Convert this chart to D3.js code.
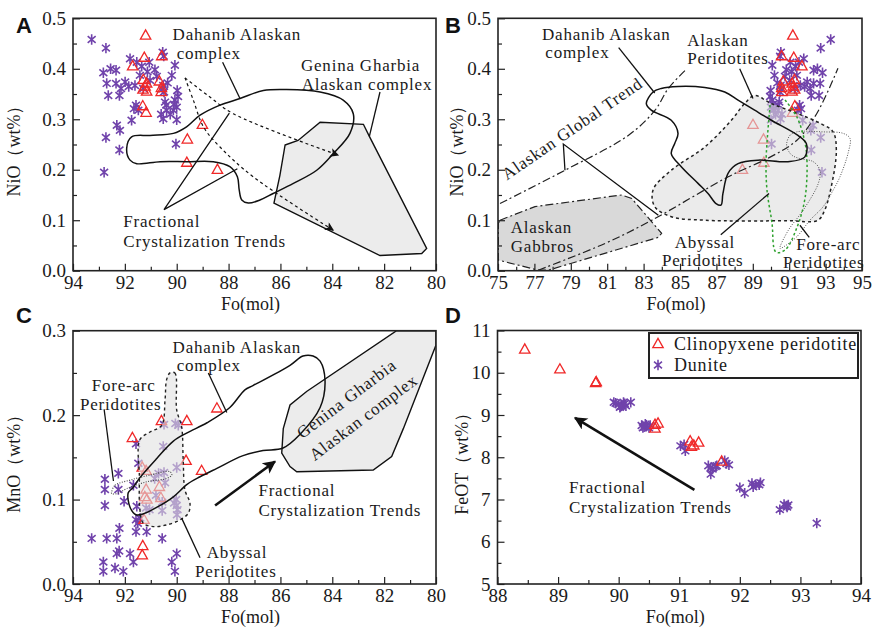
<!DOCTYPE html>
<html lang="en">
<head>
<meta charset="UTF-8">
<title>Olivine Fo vs NiO, MnO and FeOT</title>
<script src="https://d3js.org/d3.v7.min.js"></script>
<style>
  body { margin: 0; background: #fff; }
  svg { display: block; }
  text { font-family: "Liberation Serif", "Times New Roman", serif; fill: #1a1a1a; }
  .lbl { font-size: 17px; letter-spacing: 0.8px; }
  .tick text { font-size: 19px; }
  .title { font-size: 18px; }
  .letter { font-family: "Liberation Sans", Arial, sans-serif; font-weight: bold; font-size: 22px; fill: #111; }
</style>
</head>
<body>
<script>
// ---- sample data (Fo mol%, oxide wt%) ----
const triNiO = [[91.2,0.466],[91.25,0.422],[90.58,0.425],[91.70,0.405],[91.29,0.378],[91.16,0.371],
  [91.22,0.365],[91.30,0.359],[91.16,0.355],[90.67,0.375],[90.59,0.362],[90.60,0.354],[91.31,0.326],
  [91.18,0.313],[89.01,0.289],[89.59,0.260],[89.61,0.214],[88.43,0.200]];
const starNiO = [[93.28,0.458],[92.73,0.441],[92.83,0.392],[92.34,0.397],[92.70,0.371],[92.34,0.371],
  [92.15,0.361],[91.99,0.374],[92.64,0.347],[92.21,0.347],[91.80,0.420],[91.54,0.413],[91.42,0.387],
  [91.61,0.367],[91.13,0.394],[91.03,0.377],[91.06,0.413],[91.57,0.328],[91.48,0.318],[91.74,0.298],
  [92.31,0.288],[92.19,0.278],[92.73,0.264],[92.21,0.239],[92.80,0.195],[90.54,0.433],[90.50,0.425],
  [90.07,0.407],[90.19,0.387],[90.52,0.367],[90.49,0.354],[89.98,0.357],[90.45,0.334],[90.07,0.338],
  [90.00,0.324],[90.39,0.318],[90.52,0.301],[90.00,0.299],[90.13,0.318],[90.03,0.251],[90.84,0.398],
  [90.77,0.385],[91.29,0.361],[91.65,0.321],[90.40,0.328],[90.60,0.310],[90.10,0.330],[89.95,0.345],
  [90.35,0.372],[91.35,0.405],[91.85,0.365],[92.55,0.400],[90.55,0.360],[90.25,0.310]];
const triMnO = [[91.71,0.173],[90.59,0.193],[89.61,0.193],[88.45,0.208],[89.64,0.146],[89.04,0.134],
  [91.33,0.138],[91.18,0.134],[91.18,0.112],[91.23,0.103],[91.15,0.100],[90.67,0.115],[90.61,0.102],
  [91.26,0.076],[91.31,0.045],[91.33,0.034]];
const starMnO = [[92.77,0.124],[92.77,0.112],[92.25,0.131],[92.25,0.112],[92.77,0.093],[92.03,0.098],
  [91.57,0.166],[91.48,0.143],[91.67,0.117],[91.54,0.092],[91.57,0.076],[91.50,0.072],[91.57,0.062],
  [91.16,0.062],[92.21,0.066],[93.28,0.054],[92.70,0.054],[92.31,0.054],[92.31,0.036],[92.22,0.039],
  [91.80,0.036],[91.67,0.026],[92.83,0.026],[92.83,0.015],[92.38,0.019],[92.06,0.015],[90.56,0.054],
  [90.00,0.036],[90.19,0.026],[90.07,0.015],[90.52,0.163],[89.94,0.188],[90.05,0.190],[90.49,0.189],
  [90.00,0.138],[90.49,0.132],[90.45,0.120],[90.56,0.097],[90.56,0.087],[90.02,0.100],[90.00,0.093],
  [89.97,0.088],[89.99,0.082],[90.10,0.096],[91.18,0.090],[91.05,0.088],[91.41,0.078],[90.70,0.131],
  [90.85,0.125],[90.80,0.105]];
const triFeO = [[88.45,10.55],[89.03,10.08],[89.63,9.78],[89.62,9.76],[90.60,8.77],[90.65,8.80],
  [90.60,8.68],[91.18,8.38],[91.32,8.35],[91.20,8.25],[91.24,8.28],[91.70,7.90]];
const starFeO = [[89.95,9.28],[90.00,9.25],[90.05,9.22],[90.10,9.27],[90.02,9.18],[89.92,9.30],
  [90.08,9.30],[90.03,9.20],[90.12,9.22],[90.20,9.30],[90.38,8.75],[90.42,8.72],[90.46,8.76],
  [90.50,8.70],[90.44,8.78],[90.40,8.70],[90.52,8.75],[91.02,8.27],[91.10,8.15],[91.08,8.30],
  [91.48,7.80],[91.52,7.75],[91.55,7.72],[91.52,7.60],[91.60,7.78],[91.62,7.80],[91.75,7.92],
  [91.78,7.85],[91.82,7.82],[92.00,7.28],[92.08,7.15],[92.20,7.38],[92.22,7.30],[92.26,7.35],
  [92.32,7.35],[92.34,7.40],[92.66,6.76],[92.73,6.88],[92.77,6.85],[92.80,6.87],[92.78,6.82],
  [93.27,6.44]];

// ---- reference fields (Fo, oxide) ----
const dahanibNiO = [[91.93,0.242],[91.74,0.265],[91.03,0.268],[90.13,0.272],[89.62,0.285],[89.10,0.308],
  [88.33,0.328],[87.56,0.341],[86.66,0.357],[85.76,0.359],[84.47,0.354],[83.58,0.338],[83.19,0.311],
  [83.32,0.272],[83.96,0.232],[84.60,0.199],[85.50,0.173],[86.28,0.153],[86.79,0.140],[87.24,0.134],
  [87.49,0.140],[87.59,0.160],[87.66,0.186],[87.95,0.206],[88.59,0.216],[89.62,0.216],[90.64,0.216],
  [91.54,0.212],[91.80,0.219]];
const geninaNiO = [[85.82,0.249],[85.32,0.258],[84.47,0.294],[82.80,0.290],[82.57,0.266],[80.36,0.044],
  [80.55,0.034],[82.16,0.030],[86.25,0.134],[86.02,0.189]];
const trendUpper = [[89.68,0.382],[88.72,0.344],[87.82,0.311],[83.77,0.229]];
const trendLower = [[89.68,0.382],[89.36,0.338],[88.97,0.285],[88.33,0.245],[87.05,0.186],[83.96,0.080]];
const gabbros = [[75.11,0.100],[77.03,0.127],[81.80,0.150],[82.35,0.143],[83.99,0.074],[83.81,0.066],
  [77.76,0.001],[77.21,0.001],[75.02,0.021],[75.02,0.094]];
const globalUpper = [[75.11,0.133],[78.68,0.199],[82.16,0.268],[83.63,0.318],[84.36,0.361],[85.37,0.400]];
const globalLower = [[77.21,0.001],[80.88,0.054],[83.45,0.100],[87.65,0.186],[89.95,0.225],[91.41,0.258],
  [92.51,0.311],[93.68,0.401]];
const dahanibB = [[83.52,0.354],[83.15,0.331],[83.42,0.318],[84.52,0.298],[84.89,0.272],[84.71,0.252],
  [84.52,0.232],[85.07,0.206],[85.99,0.173],[86.54,0.153],[86.98,0.133],[87.25,0.130],[87.36,0.153],
  [87.64,0.193],[88.19,0.212],[89.29,0.219],[90.93,0.216],[91.85,0.225],[91.94,0.252],[91.48,0.268],
  [90.02,0.298],[89.10,0.318],[88.19,0.338],[87.46,0.354],[86.36,0.363],[84.89,0.365],[83.97,0.361]];
const alaskanPerid = [[89.10,0.347],[90.02,0.331],[91.48,0.311],[92.76,0.291],[93.41,0.275],[93.59,0.239],
  [93.31,0.166],[92.95,0.120],[92.58,0.100],[90.93,0.099],[86.36,0.100],[84.52,0.107],[83.61,0.127],
  [83.52,0.160],[84.52,0.199],[86.36,0.245],[87.82,0.298],[88.55,0.331]];
const foreArcB = [[90.86,0.252],[91.04,0.268],[91.41,0.275],[92.87,0.275],[93.97,0.272],[94.34,0.262],
  [94.25,0.235],[93.79,0.186],[93.42,0.160],[92.87,0.127],[92.14,0.100],[91.41,0.067],[90.68,0.047],
  [90.49,0.044],[90.95,0.080],[91.77,0.120],[92.60,0.173],[92.69,0.199],[92.32,0.216],[91.59,0.222],
  [91.14,0.229],[90.90,0.242]];
const abyssalB = [[89.95,0.328],[89.73,0.219],[89.78,0.160],[90.05,0.096],[90.27,0.037],[90.77,0.041],
  [91.43,0.086],[91.87,0.144],[91.98,0.213],[91.87,0.253],[91.43,0.304],[90.77,0.338]];
const dahanibMnO = [[91.87,0.108],[91.80,0.091],[91.57,0.082],[91.30,0.083],[90.76,0.091],[90.14,0.103],
  [89.60,0.118],[89.10,0.127],[88.45,0.137],[87.44,0.152],[86.67,0.158],[85.90,0.161],[85.25,0.177],
  [84.47,0.209],[84.28,0.241],[84.47,0.264],[84.74,0.270],[85.13,0.270],[85.63,0.259],[87.06,0.235],
  [87.37,0.230],[87.95,0.209],[88.83,0.191],[89.60,0.179],[90.14,0.169],[90.76,0.149],[91.42,0.126],
  [91.69,0.114]];
const geninaMnO = [[81.52,0.300],[80.0,0.300],[80.0,0.283],[81.26,0.184],[81.71,0.151],[82.42,0.135],
  [85.37,0.133],[85.63,0.139],[85.95,0.155],[85.89,0.184],[85.63,0.212],[84.99,0.228]];
const abyssalMnO = [[90.26,0.250],[90.07,0.250],[90.00,0.206],[89.81,0.186],[89.75,0.147],[89.68,0.111],
  [89.49,0.096],[89.55,0.084],[89.87,0.076],[90.39,0.070],[90.90,0.068],[91.29,0.072],[91.42,0.088],
  [91.44,0.127],[91.42,0.171],[91.03,0.180],[90.58,0.188],[90.45,0.218],[90.39,0.242]];
const foreArcMnO = [[92.51,0.109],[92.38,0.117],[91.80,0.123],[91.03,0.129],[90.26,0.133],[90.19,0.129],
  [90.39,0.125],[91.16,0.121],[91.93,0.113],[92.31,0.107],[92.51,0.107]];

const svg = d3.select("body").append("svg").attr("width", 877).attr("height", 633);
const defs = svg.append("defs");

function arrowMarker(id, w, h) {
  defs.append("marker").attr("id", id).attr("viewBox", "0 0 10 10")
    .attr("refX", 9).attr("refY", 5).attr("markerUnits", "userSpaceOnUse")
    .attr("markerWidth", w).attr("markerHeight", h).attr("orient", "auto")
    .append("path").attr("d", "M0,0L10,5L0,10L2.5,5Z").attr("fill", "#111");
}
arrowMarker("arrowSmall", 12, 9);
arrowMarker("arrowBig", 17, 13);

let clipN = 0;
function panel(xDom, xRange, yDom, yRange) {
  const x = d3.scaleLinear().domain(xDom).range(xRange);
  const y = d3.scaleLinear().domain(yDom).range(yRange);
  const id = "clip" + (++clipN);
  defs.append("clipPath").attr("id", id).append("rect")
    .attr("x", xRange[0]).attr("y", yRange[1])
    .attr("width", xRange[1] - xRange[0]).attr("height", yRange[0] - yRange[1]);
  return { x, y, g: svg.append("g"), clip: `url(#${id})` };
}

function axes(p, xMajor, xMinor, yMajor, yMinor, xFmt, yFmt) {
  const [x0, x1] = p.x.range(), [y0, y1] = p.y.range();
  const a = p.g.append("g");
  const tidy = s => { s.select(".domain").remove(); s.selectAll(".tick line").attr("stroke", "#222").attr("stroke-width", 1.2); };
  a.append("g").attr("transform", `translate(0,${y0})`)
    .call(d3.axisBottom(p.x).tickValues(xMinor).tickSize(-4).tickFormat("")).call(tidy);
  a.append("g").attr("transform", `translate(0,${y0})`)
    .call(d3.axisBottom(p.x).tickValues(xMajor).tickSize(-7).tickPadding(5).tickFormat(xFmt)).call(tidy);
  a.append("g").attr("transform", `translate(${x0},0)`)
    .call(d3.axisLeft(p.y).tickValues(yMinor).tickSize(-4).tickFormat("")).call(tidy);
  a.append("g").attr("transform", `translate(${x0},0)`)
    .call(d3.axisLeft(p.y).tickValues(yMajor).tickSize(-7).tickPadding(7).tickFormat(yFmt)).call(tidy);
  p.g.append("rect").attr("x", x0).attr("y", y1).attr("width", x1 - x0).attr("height", y0 - y1)
    .attr("fill", "none").attr("stroke", "#222").attr("stroke-width", 1.6);
}

function titles(p, xt, yt, ytX, letter, lx, ly) {
  const [x0, x1] = p.x.range(), [y0, y1] = p.y.range();
  p.g.append("text").attr("class", "title").attr("x", (x0 + x1) / 2 - 4).attr("y", y0 + 39)
    .attr("text-anchor", "middle").text(xt);
  p.g.append("text").attr("class", "title").attr("text-anchor", "middle")
    .attr("transform", `translate(${ytX},${(y0 + y1) / 2 + 2}) rotate(-90)`).text(yt);
  svg.append("text").attr("class", "letter").attr("x", lx).attr("y", ly).text(letter);
}

const starArms = [90, 40, 140].map(a => {
  const r = 5.2, c = r * Math.cos(a * Math.PI / 180), s = r * Math.sin(a * Math.PI / 180);
  return `M${-c},${s}L${c},${-s}`;
}).join("");
const triPath = "M0,-5.6L5.2,3.6L-5.2,3.6Z";

function stars(p, data) {
  p.g.append("g").selectAll("path").data(data).join("path")
    .attr("d", starArms).attr("transform", d => `translate(${p.x(d[0])},${p.y(d[1])})`)
    .attr("fill", "none").attr("stroke", "#7043ab").attr("stroke-width", 1.6);
}
function tris(p, data) {
  p.g.append("g").selectAll("path").data(data).join("path")
    .attr("d", triPath).attr("transform", d => `translate(${p.x(d[0])},${p.y(d[1])})`)
    .attr("fill", "none").attr("stroke", "#f02828").attr("stroke-width", 1.3);
}

function shape(p, pts, curve, st) {
  const line = d3.line().x(d => p.x(d[0])).y(d => p.y(d[1])).curve(curve);
  return p.g.append("path").attr("d", line(pts)).attr("clip-path", p.clip)
    .attr("fill", st.fill || "none").attr("stroke", st.stroke || "#111")
    .attr("stroke-width", st.width || 1.5).attr("stroke-dasharray", st.dash || null)
    .attr("marker-end", st.marker ? `url(#${st.marker})` : null);
}
function label(p, txt, fo, v, rot) {
  const t = p.g.append("text").attr("class", "lbl").text(txt);
  if (rot) t.attr("transform", `translate(${p.x(fo)},${p.y(v)}) rotate(${rot})`).attr("text-anchor", "middle");
  else t.attr("x", p.x(fo)).attr("y", p.y(v));
  return t;
}

const fmt1 = d3.format(".1f");
const fmt0 = d3.format("d");

// ---------- A: NiO vs Fo ----------
const A = panel([94, 80], [73, 436], [0, 0.5], [270.7, 18.3]);
shape(A, geninaNiO, d3.curveLinearClosed, { fill: "#ececec", width: 1.4 });
stars(A, starNiO);
tris(A, triNiO);
shape(A, dahanibNiO, d3.curveCatmullRomClosed, { width: 1.5 });
shape(A, trendUpper, d3.curveCatmullRom, { width: 1.2, dash: "3,3", marker: "arrowSmall" });
shape(A, trendLower, d3.curveCatmullRom, { width: 1.2, dash: "3,3", marker: "arrowSmall" });
shape(A, [[88.23, 0.413], [87.56, 0.341]], d3.curveLinear, { width: 1.3 });
shape(A, [[82.16, 0.354], [82.57, 0.266]], d3.curveLinear, { width: 1.3 });
shape(A, [[87.97, 0.312], [90.49, 0.121], [87.66, 0.202]], d3.curveLinear, { width: 1.3 });
label(A, "Dahanib Alaskan", 90.16, 0.458);
label(A, "complex", 90.0, 0.420);
label(A, "Genina  Gharbia", 85.21, 0.395);
label(A, "Alaskan complex", 85.18, 0.357);
label(A, "Fractional", 92.06, 0.086);
label(A, "Crystalization Trends", 92.06, 0.047);
axes(A, d3.range(80, 95, 2), d3.range(81, 94, 2), d3.range(0, 0.51, 0.1), d3.range(0.05, 0.5, 0.1), fmt0, fmt1);
titles(A, "Fo(mol)", "NiO（wt%）", 20, "A", 16, 33);

// ---------- B: NiO vs Fo (wide range) ----------
const B = panel([75, 95], [498, 862], [0, 0.5], [270.7, 18.3]);
shape(B, gabbros, d3.curveLinearClosed, { fill: "#d9d9d9", width: 1.2, stroke: "#222", dash: "8,3,2,3" });
stars(B, starNiO);
tris(B, triNiO);
shape(B, alaskanPerid, d3.curveCatmullRomClosed, { fill: "rgba(222,222,222,0.6)", width: 1.5, stroke: "#222", dash: "3,3" });
shape(B, globalUpper, d3.curveCatmullRom, { width: 1.2, stroke: "#222", dash: "8,3,2,3" });
shape(B, globalLower, d3.curveCatmullRom, { width: 1.2, stroke: "#222", dash: "8,3,2,3" });
shape(B, foreArcB, d3.curveCatmullRomClosed, { width: 1, stroke: "#555", dash: "1,1.5" });
shape(B, abyssalB, d3.curveCatmullRom, { width: 1.5, stroke: "#2ea12e", dash: "2.5,2.5" });
shape(B, dahanibB, d3.curveCatmullRomClosed, { width: 1.5 });
shape(B, [[81.63, 0.442], [83.61, 0.352]], d3.curveLinear, { width: 1.3 });
shape(B, [[88.28, 0.400], [89.01, 0.341]], d3.curveLinear, { width: 1.3 });
shape(B, [[87.24, 0.071], [89.89, 0.153]], d3.curveLinear, { width: 1.3 });
shape(B, [[91.59, 0.090], [92.10, 0.066]], d3.curveLinear, { width: 1.3 });
shape(B, [[78.68, 0.199], [78.59, 0.251], [83.81, 0.110]], d3.curveLinear, { width: 1.3 });
label(B, "Dahanib Alaskan", 77.42, 0.458);
label(B, "complex", 77.60, 0.421);
label(B, "Alaskan", 85.40, 0.446);
label(B, "Peridotites", 85.40, 0.409);
label(B, "Alaskan", 75.70, 0.075);
label(B, "Gabbros", 75.70, 0.038);
label(B, "Abyssal", 84.71, 0.045);
label(B, "Peridotites", 84.01, 0.009);
label(B, "Fore-arc", 91.39, 0.041);
label(B, "Peridotites", 90.66, 0.005);
label(B, "Alaskan Global Trend", 79.25, 0.272, -34.5);
axes(B, d3.range(75, 96, 2), d3.range(76, 95, 2), d3.range(0, 0.51, 0.1), d3.range(0.05, 0.5, 0.1), fmt0, fmt1);
titles(B, "Fo(mol)", "NiO（wt%）", 463, "B", 445, 33);

// ---------- C: MnO vs Fo ----------
const C = panel([94, 80], [73, 436], [0, 0.3], [584, 330.7]);
shape(C, geninaMnO, d3.curveLinearClosed, { fill: "#ececec", width: 1.4 });
stars(C, starMnO);
tris(C, triMnO);
shape(C, abyssalMnO, d3.curveCatmullRomClosed, { fill: "rgba(225,225,225,0.6)", width: 1.4, stroke: "#222", dash: "3,3" });
shape(C, foreArcMnO, d3.curveCatmullRomClosed, { width: 1.1, stroke: "#444", dash: "1,1.5" });
shape(C, dahanibMnO, d3.curveCatmullRomClosed, { width: 1.5 });
shape(C, [[92.80, 0.207], [92.44, 0.122]], d3.curveLinear, { width: 1.3 });
shape(C, [[88.78, 0.250], [88.07, 0.203]], d3.curveLinear, { width: 1.3 });
shape(C, [[89.10, 0.031], [89.81, 0.078]], d3.curveLinear, { width: 1.3 });
shape(C, [[88.52, 0.093], [86.21, 0.145]], d3.curveLinear, { width: 2.6, marker: "arrowBig" });
label(C, "Dahanib Alaskan", 90.16, 0.274);
label(C, "complex", 90.0, 0.252);
label(C, "Fore-arc", 93.28, 0.228);
label(C, "Peridotites", 93.73, 0.206);
label(C, "Abyssal", 88.84, 0.031);
label(C, "Peridotites", 89.29, 0.008);
label(C, "Fractional", 86.85, 0.104);
label(C, "Crystalization Trends", 86.85, 0.080);
label(C, "Genina  Gharbia", 83.32, 0.214, -37);
label(C, "Alaskan complex", 82.67, 0.192, -37);
axes(C, d3.range(80, 95, 2), d3.range(81, 94, 2), d3.range(0, 0.31, 0.1), d3.range(0.05, 0.3, 0.1), fmt0, fmt1);
titles(C, "Fo(mol)", "MnO（wt%）", 20, "C", 16, 323);

// ---------- D: FeOT vs Fo ----------
const D = panel([88, 94], [497.5, 861], [5, 11], [584, 330.5]);
stars(D, starFeO);
tris(D, triFeO);
shape(D, [[91.25, 7.23], [89.28, 8.93]], d3.curveLinear, { width: 2.6, marker: "arrowBig" });
label(D, "Fractional", 89.18, 7.15);
label(D, "Crystalization Trends", 89.18, 6.68);
axes(D, d3.range(88, 94.1, 1), d3.range(88.5, 94, 1), d3.range(5, 11.1, 1), d3.range(5.5, 11, 1), fmt0, fmt0);
titles(D, "Fo(mol)", "FeOT（wt%）", 468, "D", 445, 323);

// legend
const lg = D.g.append("g");
lg.append("rect").attr("x", 649).attr("y", 333).attr("width", 209).attr("height", 45)
  .attr("fill", "#fff").attr("stroke", "#222").attr("stroke-width", 2);
lg.append("path").attr("d", triPath).attr("transform", "translate(658,344)")
  .attr("fill", "none").attr("stroke", "#f02828").attr("stroke-width", 1.3);
lg.append("text").attr("class", "lbl").attr("x", 674).attr("y", 350).style("font-size", "18px").text("Clinopyxene peridotite");
lg.append("path").attr("d", starArms).attr("transform", "translate(658,365)")
  .attr("fill", "none").attr("stroke", "#7043ab").attr("stroke-width", 1.6);
lg.append("text").attr("class", "lbl").attr("x", 674).attr("y", 371).style("font-size", "18px").text("Dunite");
</script>
</body>
</html>
